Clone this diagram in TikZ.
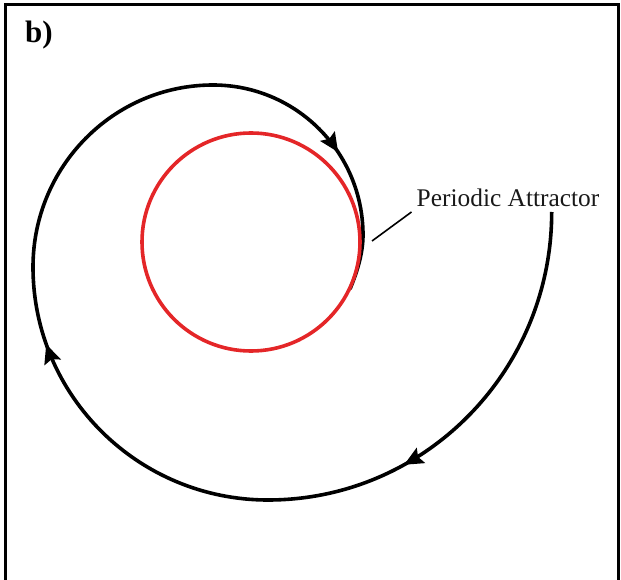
\documentclass[tikz,border=0pt]{standalone}
\usepackage{fontspec}
\setmainfont{Liberation Serif}
\usetikzlibrary{arrows.meta,decorations.markings}
\definecolor{attred}{RGB}{228,38,40}
\tikzset{
  frameline/.style={line width=3pt,black},
  spiral/.style={line width=3.6pt,black},
  limitcycle/.style={line width=3.6pt,attred},
  leader/.style={line width=1.6pt,black}
}
\def\headshape{Stealth[length=19pt,width=17pt,inset=3pt]}
\begin{document}
\begin{tikzpicture}[x=1pt,y=-1pt]
\useasboundingbox (0,0) rectangle (621,580);
% frame (open at the bottom)
\draw[frameline] (5,582) -- (5,5) -- (618,5) -- (618,582);
% panel label
\node[anchor=base west,inner sep=0pt,font=\fontsize{31pt}{36pt}\selectfont\bfseries] (lab) at (25,43) {b)};
% spiral trajectory
\draw[spiral,decoration={markings,
    mark=at position 307pt with {\arrow{\headshape}},
    mark=at position 738pt with {\arrow{\headshape}},
    mark=at position 1249pt with {\arrow{\headshape}}},
    postaction={decorate}]
  (551.7,212) .. controls (551.7,371.1) and (424.7,500) .. (268,500)
  .. controls (138.2,500) and (33,395.7) .. (33,267)
  .. controls (33,166.5) and (113.6,85) .. (213,85)
  .. controls (296.1,85) and (363,152.2) .. (363,235)
  .. controls (363,253) and (357.5,271) .. (350,289);
% periodic attractor
\node[draw=none,circle,minimum size=218pt,inner sep=0pt] (cyc) at (251,242) {};
\draw[limitcycle] (cyc.center) circle[radius=109pt];
% label and leader line
\node[anchor=base west,inner sep=0pt,font=\fontsize{25.4pt}{30pt}\selectfont,text=black!90] (pa) at (416.5,207) {Periodic Attractor};
\coordinate (lfoot) at (372,241);
\coordinate (ltop) at (411.5,212);
\draw[leader] (lfoot) -- (ltop);
\end{tikzpicture}
\end{document}
